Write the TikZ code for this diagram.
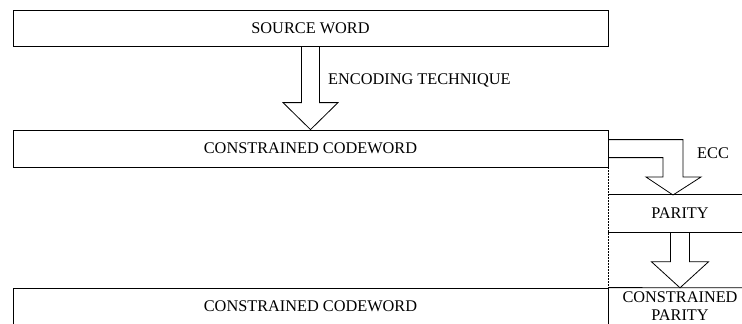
\documentclass[tikz,border=0pt]{standalone}
\usepackage{fontspec}
\setmainfont{Liberation Serif}
\usetikzlibrary{calc}

\tikzset{
  box/.style={draw, line width=0.8pt, inner sep=0pt, minimum height=37pt},
  band/.style={inner sep=0pt, minimum width=144pt, minimum height=37pt, align=center},
  fat/.style={draw, line width=0.8pt, line join=miter},
  lbl/.style={inner sep=0pt, anchor=west}
}
% block arrow: from, to, half shaft, half head, head length
\newcommand\fatarrow[5]{%
  \draw[fat] let \p1=(#1), \p2=(#2) in
    (\x1-#3,\y1) -- (\x1-#3,\y2+#5) -- (\x1-#4,\y2+#5) -- (\x2,\y2)
    -- (\x1+#4,\y2+#5) -- (\x1+#3,\y2+#5) -- (\x1+#3,\y1);}

\begin{document}
\begin{tikzpicture}[x=1pt, y=-1pt, font=\fontsize{16.3}{18}\selectfont]
        \useasboundingbox (0,0) rectangle (742,324);
        \node[box, minimum width=595pt, minimum height=36pt] (src) at (310.5,28) {SOURCE WORD};
        \node[box, minimum width=595pt] (cw1) at (310.5,148.5) {CONSTRAINED CODEWORD};
        \node[band] (par) at (680,213.5) {PARITY};
        \node[box, minimum width=595pt] (cw2) at (310.5,306.5) {CONSTRAINED CODEWORD};
        \node[band] (cpar) at (680,306.5) {CONSTRAINED\\PARITY};
        \coordinate (ecc) at (673,195);
        % parity band and the divider
        \draw[line width=0.8pt] (par.north west) -- (par.north east) (par.south west) -- (par.south east);
        \draw[line width=0.8pt] (cw2.north east) -- (cpar.north east);
        \draw[dash pattern=on 2pt off 1pt, line width=0.9pt] (cw1.south east) -- (cw2.north east);
        % arrows
        \fatarrow{src.south}{cw1.north}{9pt}{27.5pt}{27pt}
        \fatarrow{par.south}{cpar.north}{9.5pt}{28.5pt}{26pt}
        \draw[fat] ($(cw1.north east)+(0,10)$) -| ($(ecc)+(10,-18)$) -- ++(18,0) -- (ecc)
          -- ++(-27,-18) -- ++(17,0) |- ($(cw1.north east)+(0,28)$);
        \node[lbl] (enclbl) at (328,80) {ENCODING TECHNIQUE};
        \node[lbl] (ecclbl) at (697,153) {ECC};
      \end{tikzpicture}
\end{document}
